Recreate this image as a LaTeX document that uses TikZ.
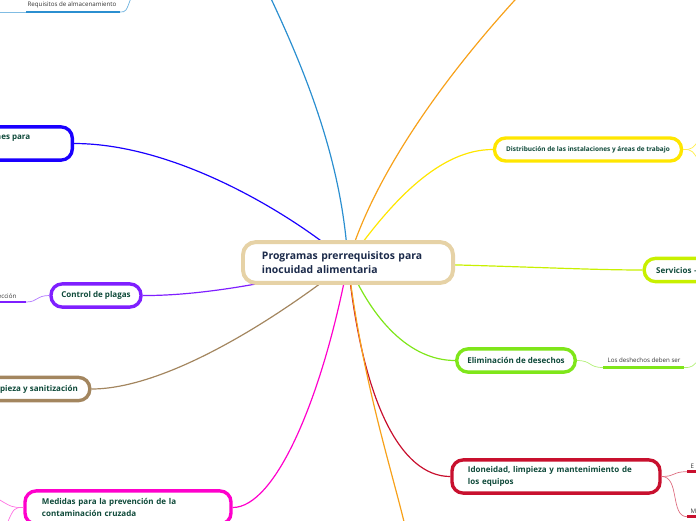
\documentclass[tikz,border=0pt]{standalone}
\usepackage{fontspec}
\setmainfont{Open Sans}
\usetikzlibrary{backgrounds}

\definecolor{hubtan}{HTML}{E6D2A6}
\definecolor{hubtext}{HTML}{1B2A4A}
\definecolor{topictext}{HTML}{0F4A3A}
\definecolor{cyellow}{HTML}{FFE600}
\definecolor{clime}{HTML}{C8F000}
\definecolor{cgreen}{HTML}{7FE61A}
\definecolor{ccrimson}{HTML}{C8102E}
\definecolor{corange}{HTML}{F7A11A}
\definecolor{cmagenta}{HTML}{FF00CC}
\definecolor{cbrown}{HTML}{A3865F}
\definecolor{cpurple}{HTML}{7F1FFF}
\definecolor{cblue}{HTML}{1A00FF}
\definecolor{csky}{HTML}{2B8FD0}

\begin{document}
\begin{tikzpicture}[x=0.025cm, y=-0.025cm,
  hub/.style={draw=hubtan, line width=2.8pt, fill=white, rounded corners=0.32cm,
    text=hubtext, font=\bfseries\fontsize{7.4}{10}\selectfont, align=left,
    minimum width=5.25cm, minimum height=1.02cm, inner xsep=0.475cm, text width=4.3cm},
  topic/.style={fill=white, line width=2.4pt, rounded corners=0.28cm, text=topictext,
    font=\bfseries\fontsize{5.7}{8.4}\selectfont, minimum height=0.58cm},
  twoline/.style={align=left, minimum height=0.83cm, inner xsep=0.4cm},
  subtext/.style={font=\fontsize{4.4}{5}\selectfont, text=black!80, inner sep=1pt},
  branch/.style={line width=0.85pt},
  twig/.style={line width=0.5pt},
  bar/.style={line width=1.8pt}]

  \useasboundingbox (0,0) rectangle (696,520);

  % tema central
  \node[hub] (hub) at (348,262.5) {Programas prerrequisitos para\\inocuidad alimentaria};

  % ramas principales
  \node[topic, draw=cyellow, minimum width=4.675cm, minimum height=0.575cm,
    font=\bfseries\fontsize{4.6}{5.4}\selectfont] (dist) at (588,149.5)
    {Distribución de las instalaciones y áreas de trabajo};
  \node[topic, draw=clime, anchor=west, text width=2.2cm, align=left, inner xsep=0.3cm]
    (serv) at (642.5,270) {Servicios –};
  \node[topic, draw=cgreen, minimum width=2.96cm] (elim) at (516,360.5) {Eliminación de desechos};
  \node[topic, twoline, draw=ccrimson, minimum width=5.2cm, text width=4.4cm] (idon) at (556,476.5)
    {Idoneidad, limpieza y mantenimiento de\\los equipos};
  \node[topic, twoline, draw=cmagenta, minimum width=5.15cm, text width=4.3cm] (med) at (128,507.5)
    {Medidas para la prevención de la\\contaminación cruzada};
  \node[topic, draw=cpurple, minimum width=2.25cm] (ctrl) at (96,295.5) {Control de plagas};
  \node[topic, draw=cbrown, anchor=east, inner xsep=0.3cm] (limp) at (91.5,389)
    {Limpieza y sanitización};
  \node[topic, draw=cblue, anchor=east, align=right, minimum height=0.83cm, inner xsep=0.3cm]
    (inst) at (74,143.5) {nes para\hspace*{0.75cm}\\\mbox{}};

  % subtemas
  \node[subtext] (req) at (72,5) {Requisitos de almacenamiento};
  \coordinate (reqL) at (26,12);
  \coordinate (reqR) at (120,12);
  \node[subtext] (desh) at (644,360) {Los deshechos deben ser};
  \coordinate (deshL) at (603,367.5);
  \coordinate (deshR) at (684,367.5);
  \node[subtext, anchor=south east] (insp) at (18,300) {ección};
  \coordinate (inspR) at (26,302);
  \node[subtext, anchor=south west] (idonA) at (689,470) {E};
  \coordinate (idonAL) at (687,471.7);
  \node[subtext, anchor=south west] (idonB) at (689,515) {M};
  \coordinate (idonBL) at (687,516.7);

  \begin{scope}[on background layer]
    % conectores del centro
    \draw[branch, csky] (hub.center) .. controls (342,160) and (305,70) .. (266,-12);
    \draw[branch, corange] (hub.center) .. controls (372,180) and (440,80) .. (526,-12);
    \draw[branch, cyellow] (hub.center) .. controls (392,200) and (440,149.5) .. (dist.west);
    \draw[branch, clime] (hub.center) .. controls (500,265) and (580,270) .. (serv.west);
    \draw[branch, cgreen] (hub.center) .. controls (372,320) and (410,360.5) .. (elim.west);
    \draw[branch, ccrimson] (hub.center) .. controls (362,400) and (400,476.5) .. (idon.west);
    \draw[branch, corange] (hub.center) .. controls (362,380) and (392,470) .. (406,530);
    \draw[branch, cmagenta] (hub.center) .. controls (322,400) and (275,507.5) .. (med.east);
    \draw[branch, cbrown] (hub.center) .. controls (262,330) and (160,389) .. (limp.east);
    \draw[branch, cpurple] (hub.center) .. controls (280,282) and (200,296) .. (ctrl.east);
    \draw[branch, cblue] (hub.center) .. controls (300,220) and (180,143.5) .. (inst.east);
  \end{scope}

  % conectores de subtemas
  \draw[twig, cyellow!70] (dist.east) .. controls (692,149.5) .. (702,136);
  \draw[twig, cyellow!70] (dist.east) .. controls (692,149.5) .. (702,166);
  \draw[twig, cgreen!60] (elim.east) .. controls (592,360.5) and (588,367.5) .. (deshL);
  \draw[bar, cgreen] (deshL) -- (deshR);
  \draw[twig, cgreen!60] (deshR) .. controls (692,367.5) .. (702,356);
  \draw[twig, ccrimson!60] (idon.east) .. controls (676,476.5) and (672,471.7) .. (idonAL);
  \draw[twig, ccrimson!60] (idon.east) .. controls (680,476.5) and (670,516.7) .. (idonBL);
  \draw[bar, ccrimson] (idonAL) -- (702,471.7);
  \draw[bar, ccrimson] (idonBL) -- (702,516.7);
  \draw[twig, cpurple!60] (ctrl.west) .. controls (36,295.5) and (38,302) .. (inspR);
  \draw[bar, cpurple] (inspR) -- (-5,302);
  \draw[twig, cmagenta!55] (med.west) .. controls (12,507.5) .. (-5,497);
  \draw[twig, cmagenta!55] (med.west) .. controls (14,507.5) .. (6,526);
  \draw[bar, csky] (reqL) -- (reqR);
  \draw[twig, csky!60] (reqL) -- (-5,12);
  \draw[twig, csky!70] (reqR) .. controls (126,12) .. (132,-5);
\end{tikzpicture}
\end{document}
